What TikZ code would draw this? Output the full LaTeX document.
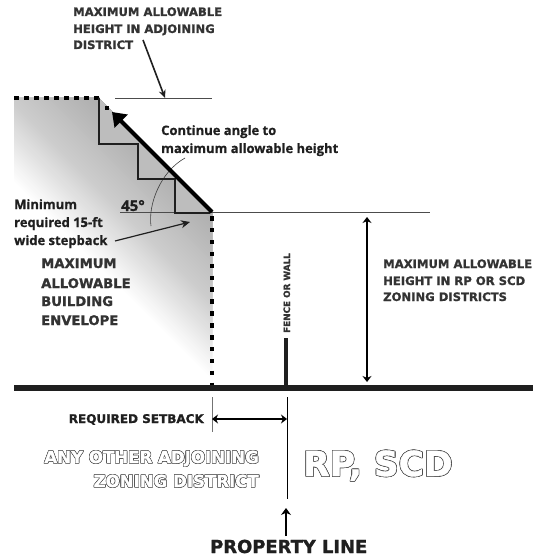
\documentclass[tikz,border=0pt]{standalone}
\usepackage{fontspec}
\setmainfont{DejaVu Sans}[BoldFeatures={FakeBold=1.2}]
\newfontfamily\lowfont{Open Sans}[BoldFeatures={FakeBold=0.8}]
\usetikzlibrary{arrows.meta}
\definecolor{ink}{gray}{0.12}
\definecolor{capink}{gray}{0.2}
\definecolor{outlink}{gray}{0.3}
\newcommand{\copyat}[3]{\makebox[0pt][l]{\hspace*{#1}\raisebox{#2}{\textcolor{outlink}{#3}}}}
\newcommand{\outl}[2]{\copyat{-#1}{0pt}{#2}\copyat{#1}{0pt}{#2}\copyat{0pt}{#1}{#2}\copyat{0pt}{-#1}{#2}\copyat{-#1}{-#1}{#2}\copyat{#1}{#1}{#2}\copyat{-#1}{#1}{#2}\copyat{#1}{-#1}{#2}\textcolor{white}{#2}}
\tikzset{
  x=1pt,y=-1pt,
  caplabel/.style={anchor=base west,inner sep=0pt,font=\fontsize{11.6}{12}\selectfont\bfseries,text=capink},
  envlabel/.style={anchor=base west,inner sep=0pt,font=\fontsize{13.2}{14}\selectfont\bfseries,text=capink},
  lowlabel/.style={anchor=base west,inner sep=0pt,font=\lowfont\fontsize{13}{14}\selectfont\bfseries,text=ink},
  ghost/.style={anchor=base east,inner sep=0pt,font=\fontsize{16.6}{17}\selectfont\bfseries},
  thinrule/.style={draw=black!70,line width=0.8pt},
  steps/.style={draw=ink,line width=2pt,line join=miter},
  squaredots/.style={draw=black,line width=4.5pt,dash pattern=on 4.5pt off 7.4pt},
  topdots/.style={draw=black,line width=4pt,dash pattern=on 4.5pt off 5.5pt},
  pointer/.style={draw=ink,line width=1.6pt,-{Stealth[length=8pt,width=7pt]}},
  dimline/.style={draw=black,line width=1.8pt,{Stealth[length=6pt,width=9pt]}-{Stealth[length=6pt,width=9pt]}},
  hairline/.style={draw=black!75,line width=0.6pt},
}
\begin{document}
\begin{tikzpicture}
\useasboundingbox (0,0) rectangle (533,556);
\fill[white] (0,0) rectangle (533,556);
% envelope
\begin{scope}
\clip (14,98) -- (99,98) -- (212,212) -- (212,388) -- (14,388) -- cycle;
\foreach \t in {-170,-167,...,6}{
  \pgfmathsetmacro{\p}{\t<-90 ? 20*(\t+170)/80 : 20+12*(\t+90)/90}
  \fill[black!\p] (\t-100,-100) -- (\t+700,700) -- (1000,700) -- (1000,-100) -- cycle;
}
\end{scope}
\fill[black!26] (99,98) -- (99,144) -- (138,144) -- (138,179) -- (175,179) -- (175,213) -- (212,213) -- cycle;
% named points
\coordinate (topL) at (14,98);
\coordinate (topR) at (99,98);
\coordinate (s1) at (99,144);
\coordinate (s2) at (138,144);
\coordinate (s3) at (138,179);
\coordinate (s4) at (175,179);
\coordinate (s5) at (175,213);
\coordinate (corner) at (212,212);
\coordinate (cornerlow) at (212,216);
\coordinate (groundE) at (212,386);
\coordinate (groundL) at (14,388);
\coordinate (groundR) at (533,388);
\coordinate (fenceT) at (286,338);
\coordinate (fenceB) at (286,388);
\coordinate (ruleA) at (115,98);
\coordinate (ruleB) at (212,98);
\coordinate (ruleC) at (120,212);
\coordinate (ruleD) at (430,212);
\coordinate (tip) at (112,112);
\coordinate (dot) at (107,108);
\coordinate (dimT) at (367,217);
\coordinate (dimB) at (367,382);
\coordinate (tickT) at (212,397);
\coordinate (tickB) at (212,432);
\coordinate (plT) at (287,397);
\coordinate (plB) at (287,499);
\coordinate (sbL) at (212,419);
\coordinate (sbR) at (287,419);
\coordinate (upS) at (286,536);
\coordinate (upE) at (286,508);
\coordinate (pA) at (143,40);
\coordinate (pB) at (165,98);
\coordinate (swA) at (115,241);
\coordinate (swB) at (190,222);
\coordinate (arcA) at (185,158);
\coordinate (arcB) at (151,226);
% rules
\draw[thinrule] (ruleA) -- (ruleB);
\draw[thinrule] (ruleC) -- (ruleD);
\draw[hairline] (arcA) .. controls (160,172) and (148,205) .. (arcB);
% outlines
\draw[topdots] (topL) -- (topR);
\draw[steps] (topR) -- (s1) -- (s2) -- (s3) -- (s4) -- (s5) -- (210,213);
\draw[squaredots] (cornerlow) -- (groundE);
\fill[black] (dot) ++(-2,-2) rectangle ++(4,4);
\draw[draw=black,line width=4pt,-{Triangle[length=13pt,width=18pt]}] (corner) -- (tip);
% ground and fence
\draw[draw=ink,line width=5.5pt] (groundL) -- (groundR);
\draw[draw=ink,line width=4.5pt] (fenceB) -- (fenceT);
% pointers
\draw[pointer] (pA) -- (pB);
\draw[pointer,line width=1.2pt,-{Stealth[length=9pt,width=8pt]}] (swA) -- (swB);
\draw[dimline] (dimT) -- (dimB);
\draw[draw=black!55,line width=1pt] (tickT) -- (tickB);
\draw[draw=black,line width=1pt] (plT) -- (plB);
\draw[draw=black,line width=1.8pt,{Stealth[length=6pt,width=9pt]}-{Stealth[length=6pt,width=9pt]}] (sbL) -- (sbR);
\draw[draw=black,line width=2pt,-{Stealth[length=7pt,width=10pt]}] (upS) -- (upE);
% labels
\node[caplabel] (t1) at (73,16) {MAXIMUM ALLOWABLE};
\node[caplabel] (t2) at (73,33) {HEIGHT IN ADJOINING};
\node[caplabel] (t3) at (73,49) {DISTRICT};
\node[lowlabel] (c1) at (161,135) {Continue angle to};
\node[lowlabel] (c2) at (161,153) {maximum allowable height};
\node[lowlabel] (m1) at (14,209) {Minimum};
\node[lowlabel] (m2) at (14,227) {required 15-ft};
\node[lowlabel] (m3) at (14,245) {wide stepback};
\node[lowlabel,font=\lowfont\fontsize{15}{15}\selectfont\bfseries] (deg) at (121,211) {45°};
\node[envlabel] (e1) at (41,268) {MAXIMUM};
\node[envlabel] (e2) at (41,288) {ALLOWABLE};
\node[envlabel] (e3) at (41,306) {BUILDING};
\node[envlabel] (e4) at (41,325) {ENVELOPE};
\node[caplabel] (h1) at (383,268) {MAXIMUM ALLOWABLE};
\node[caplabel] (h2) at (383,285) {HEIGHT IN RP OR SCD};
\node[caplabel] (h3) at (383,301) {ZONING DISTRICTS};
\node[anchor=base,inner sep=0pt,rotate=90,font=\fontsize{8.8}{9}\selectfont\bfseries,text=capink] (fw) at (290,293) {FENCE OR WALL};
\node[caplabel,anchor=base east,font=\fontsize{12}{12}\selectfont\bfseries,text=ink] (rs) at (204,423) {REQUIRED SETBACK};
\node[ghost] (z1) at (259,463) {\outl{0.45pt}{ANY OTHER ADJOINING}};
\node[ghost] (z2) at (259,487) {\outl{0.45pt}{ZONING DISTRICT}};
\node[anchor=base west,inner sep=0pt,font=\fontsize{34.5}{35}\selectfont\bfseries] (rp) at (303,476) {\outl{0.55pt}{RP, SCD}};
\node[anchor=base west,inner sep=0pt,font=\fontsize{17.9}{18}\selectfont\bfseries,text=ink] (pl) at (210,553) {PROPERTY LINE};
\end{tikzpicture}
\end{document}
